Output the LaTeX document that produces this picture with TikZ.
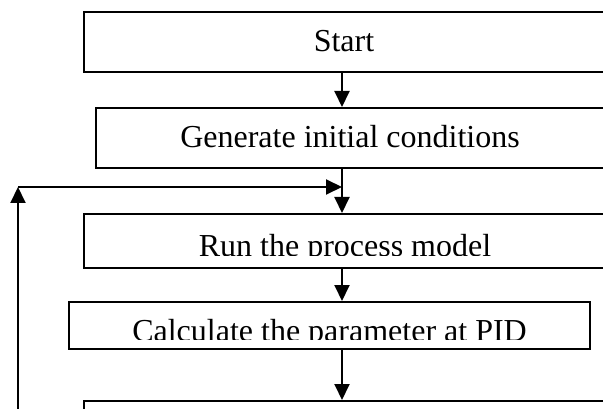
\documentclass[tikz,border=0pt]{standalone}
\usepackage{fontspec}
\setmainfont{Liberation Serif}
\usepackage{tikz}
\usetikzlibrary{arrows.meta, positioning}

\begin{document}
\begin{tikzpicture}[
    x=1pt, y=-1pt,
    procbox/.style={rectangle, draw=black, line width=2pt, inner sep=0pt, minimum width=522pt},
    boxtext/.style={font=\fontsize{32}{38}\selectfont, inner sep=0pt, anchor=base},
    arrow/.style={-{Triangle[length=16pt, width=15pt]}, line width=2pt, draw=black}
]
    \clip (0,0) rectangle (603,409);

    \node[procbox, minimum height=60pt] (start) at (345,42) {};
    \node[procbox, minimum width=510pt, minimum height=60pt] (init) at (351,138) {};
    \node[procbox, minimum height=54pt] (run) at (345,241) {};
    \node[procbox, minimum width=521pt, minimum height=47pt] (pid) at (329.5,325.5) {};
    \node[procbox, minimum height=60pt] (next) at (345,431) {};

    \node[boxtext] (startlabel) at (344,52) {Start};
    \node[boxtext] (initlabel) at (350,148) {Generate initial conditions};
    \begin{scope}
        \clip (run.north west) rectangle (606,255);
        \node[boxtext] (runlabel) at (345,257) {Run the process model};
    \end{scope}
    \begin{scope}
        \clip (pid.north west) rectangle (590,339.5);
        \node[boxtext] (pidlabel) at (329.5,341.5) {Calculate the parameter at PID};
    \end{scope}

    \coordinate (merge) at (342,187);
    \coordinate (loopcorner) at (18,187);
    \coordinate (loopfoot) at (18,420);

    \draw[arrow] (start.south -| merge) -- (init.north -| merge);
    \draw[arrow] (init.south -| merge) -- (run.north -| merge);
    \draw[arrow] (run.south -| merge) -- (pid.north -| merge);
    \draw[arrow] (pid.south -| merge) -- (next.north -| merge);
    \draw[arrow] (loopfoot) -- (loopcorner);
    \draw[arrow] (loopcorner) -- (merge);
\end{tikzpicture}
\end{document}
